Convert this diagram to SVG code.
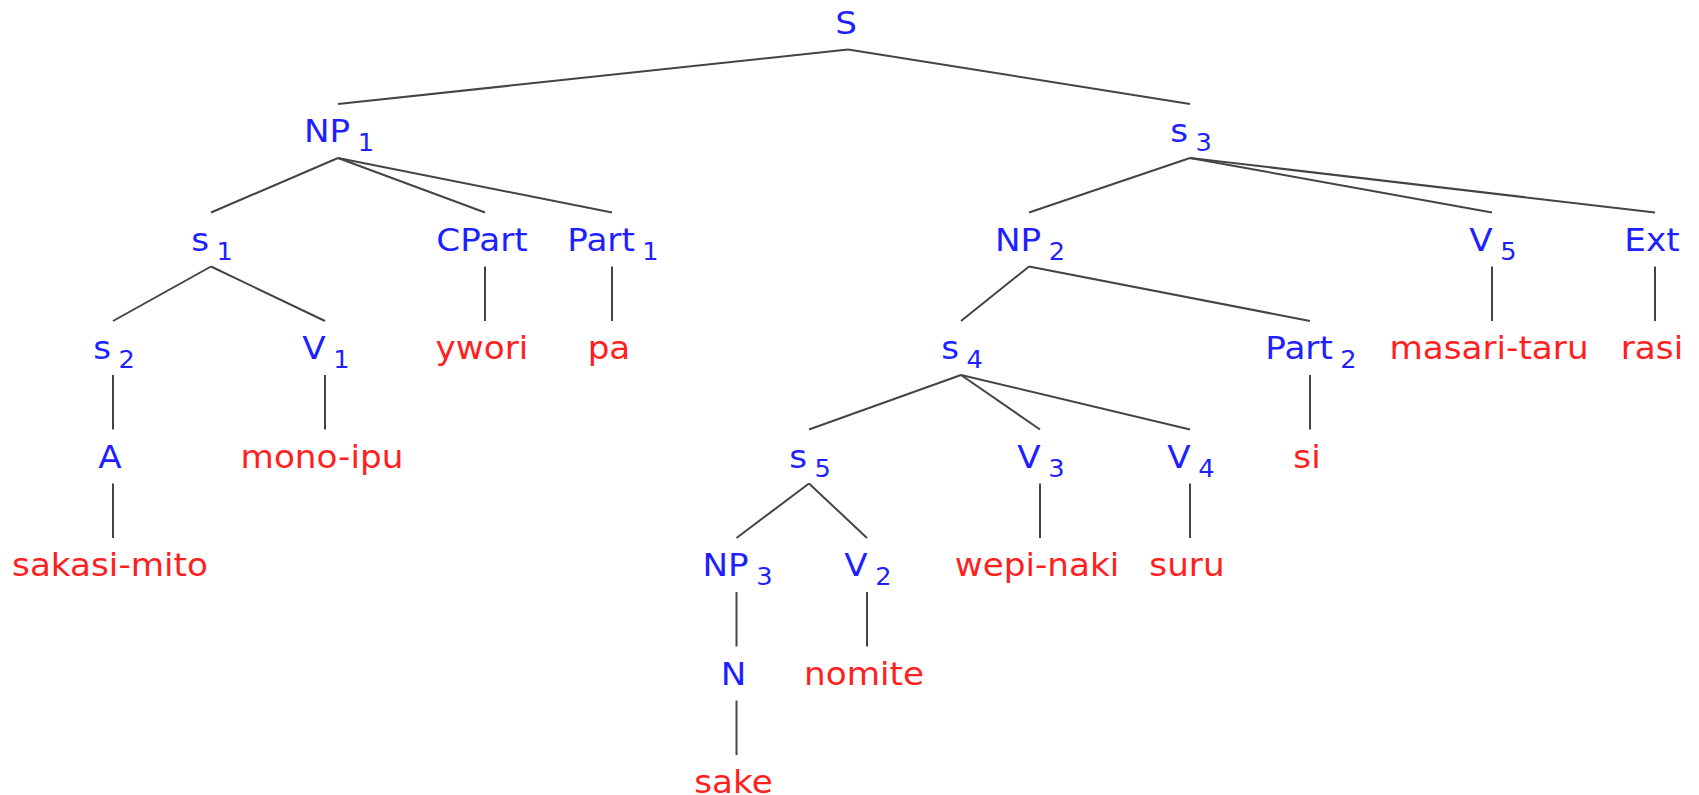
<svg xmlns="http://www.w3.org/2000/svg" width="1699" height="795" viewBox="0 0 1699 795">
  <style>
    text { font-family: "DejaVu Sans", "Liberation Sans", sans-serif; font-size: 32px; text-anchor: middle;
           transform-box: fill-box; transform-origin: center; transform: scale(1.07, 1); }
    .cat { fill: #1f1fff; }
    .word { fill: #ff1f1f; }
    .sub { font-size: 24px; }
    #edges line { stroke: #444; stroke-width: 2; stroke-linecap: butt; }
  </style>
  <rect width="1699" height="795" fill="#ffffff"/>

  <!-- tree branches -->
  <g id="edges">
    <line x1="848" y1="49.5" x2="338" y2="104"/>
    <line x1="848" y1="49.5" x2="1190" y2="104"/>
    <line x1="338" y1="158" x2="211" y2="212.5"/>
    <line x1="338" y1="158" x2="485" y2="212.5"/>
    <line x1="338" y1="158" x2="612" y2="212.5"/>
    <line x1="1190" y1="158" x2="1029" y2="212.5"/>
    <line x1="1190" y1="158" x2="1492" y2="212.5"/>
    <line x1="1190" y1="158" x2="1655" y2="212.5"/>
    <line x1="211" y1="266.5" x2="113" y2="321"/>
    <line x1="211" y1="266.5" x2="325" y2="321"/>
    <line x1="485" y1="266.5" x2="485" y2="321"/>
    <line x1="612" y1="266.5" x2="612" y2="321"/>
    <line x1="1029" y1="266.5" x2="961" y2="321"/>
    <line x1="1029" y1="266.5" x2="1310" y2="321"/>
    <line x1="1492" y1="266.5" x2="1492" y2="321"/>
    <line x1="1655" y1="266.5" x2="1655" y2="321"/>
    <line x1="113" y1="375" x2="113" y2="429.5"/>
    <line x1="325" y1="375" x2="325" y2="429.5"/>
    <line x1="961" y1="375" x2="809" y2="429.5"/>
    <line x1="961" y1="375" x2="1040" y2="429.5"/>
    <line x1="961" y1="375" x2="1190" y2="429.5"/>
    <line x1="1310" y1="375" x2="1310" y2="429.5"/>
    <line x1="113" y1="483.5" x2="113" y2="538"/>
    <line x1="809" y1="483.5" x2="736.5" y2="538"/>
    <line x1="809" y1="483.5" x2="867" y2="538"/>
    <line x1="1040" y1="483.5" x2="1040" y2="538"/>
    <line x1="1190" y1="483.5" x2="1190" y2="538"/>
    <line x1="736.5" y1="592" x2="736.5" y2="646.5"/>
    <line x1="867" y1="592" x2="867" y2="646.5"/>
    <line x1="736.5" y1="700.5" x2="736.5" y2="755"/>
  </g>

  <!-- row 0 -->
  <g id="n-S"><text class="cat" x="846" y="34">S</text></g>

  <!-- row 1 -->
  <g id="n-NP1"><text class="cat" x="339" y="142.5">NP<tspan class="sub" dx="7" dy="9">1</tspan></text></g>
  <g id="n-s3"><text class="cat" x="1191" y="142.5">s<tspan class="sub" dx="7" dy="9">3</tspan></text></g>

  <!-- row 2 -->
  <g id="n-s1"><text class="cat" x="212" y="251">s<tspan class="sub" dx="7" dy="9">1</tspan></text></g>
  <g id="n-CPart"><text class="cat" x="482" y="251">CPart</text></g>
  <g id="n-Part1"><text class="cat" x="613" y="251">Part<tspan class="sub" dx="7" dy="9">1</tspan></text></g>
  <g id="n-NP2"><text class="cat" x="1030" y="251">NP<tspan class="sub" dx="7" dy="9">2</tspan></text></g>
  <g id="n-V5"><text class="cat" x="1493" y="251">V<tspan class="sub" dx="7" dy="9">5</tspan></text></g>
  <g id="n-Ext"><text class="cat" x="1652" y="251">Ext</text></g>

  <!-- row 3 -->
  <g id="n-s2"><text class="cat" x="114" y="359.5">s<tspan class="sub" dx="7" dy="9">2</tspan></text></g>
  <g id="n-V1"><text class="cat" x="326" y="359.5">V<tspan class="sub" dx="7" dy="9">1</tspan></text></g>
  <g id="n-ywori"><text class="word" x="482" y="359.5">ywori</text></g>
  <g id="n-pa"><text class="word" x="609" y="359.5">pa</text></g>
  <g id="n-s4"><text class="cat" x="962" y="359.5">s<tspan class="sub" dx="7" dy="9">4</tspan></text></g>
  <g id="n-Part2"><text class="cat" x="1311" y="359.5">Part<tspan class="sub" dx="7" dy="9">2</tspan></text></g>
  <g id="n-masari-taru"><text class="word" x="1489" y="359.5">masari-taru</text></g>
  <g id="n-rasi"><text class="word" x="1652" y="359.5">rasi</text></g>

  <!-- row 4 -->
  <g id="n-A"><text class="cat" x="110" y="468">A</text></g>
  <g id="n-mono-ipu"><text class="word" x="322" y="468">mono-ipu</text></g>
  <g id="n-s5"><text class="cat" x="810" y="468">s<tspan class="sub" dx="7" dy="9">5</tspan></text></g>
  <g id="n-V3"><text class="cat" x="1041" y="468">V<tspan class="sub" dx="7" dy="9">3</tspan></text></g>
  <g id="n-V4"><text class="cat" x="1191" y="468">V<tspan class="sub" dx="7" dy="9">4</tspan></text></g>
  <g id="n-si"><text class="word" x="1307" y="468">si</text></g>

  <!-- row 5 -->
  <g id="n-sakasi-mito"><text class="word" x="110" y="576.5">sakasi-mito</text></g>
  <g id="n-NP3"><text class="cat" x="737.5" y="576.5">NP<tspan class="sub" dx="7" dy="9">3</tspan></text></g>
  <g id="n-V2"><text class="cat" x="868" y="576.5">V<tspan class="sub" dx="7" dy="9">2</tspan></text></g>
  <g id="n-wepi-naki"><text class="word" x="1037" y="576.5">wepi-naki</text></g>
  <g id="n-suru"><text class="word" x="1187" y="576.5">suru</text></g>

  <!-- row 6 -->
  <g id="n-N"><text class="cat" x="733.5" y="685">N</text></g>
  <g id="n-nomite"><text class="word" x="864" y="685">nomite</text></g>

  <!-- row 7 -->
  <g id="n-sake"><text class="word" x="733.5" y="793">sake</text></g>
</svg>
